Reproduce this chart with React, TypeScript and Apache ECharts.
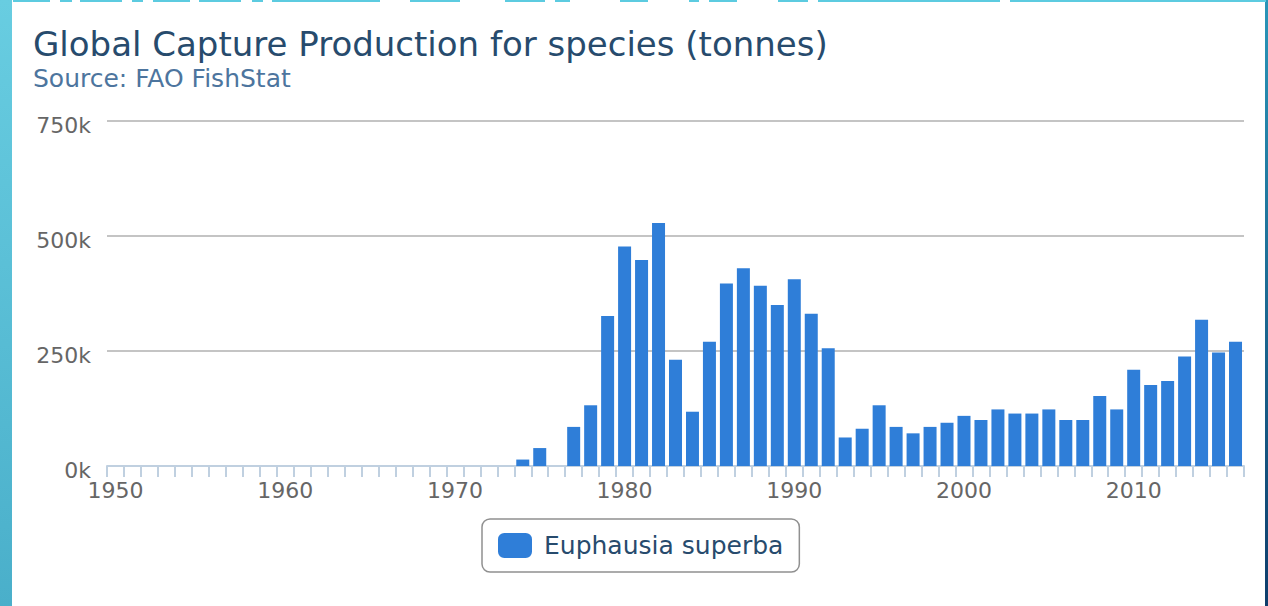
import React, { useEffect, useRef } from "react";
import * as echarts from "echarts";

const years: string[] = [];
for (let y = 1950; y <= 2016; y++) years.push(String(y));

const zeroYears = [
  0, 0, 0, 0, 0, 0, 0, 0, 0, 0, 0, 0, 0, 0, 0, 0, 0, 0, 0, 0, 0, 0, 0, 0,
];
const catch1974to2016 = [
  14000, 39000, 0, 85000, 132000, 326000, 477000, 448000, 528000, 231000,
  118000, 270000, 397000, 430000, 392000, 350000, 406000, 331000, 256000, 62000,
  81000, 132000, 85000, 71000, 85000, 94000, 109000, 100000, 123000, 114000,
  114000, 123000, 100000, 100000, 152000, 123000, 209000, 176000, 185000, 238000,
  318000, 247000, 270000,
];
const values = [...zeroYears, ...catch1974to2016];

const yTicks = [0, 250000, 500000, 750000];
const seriesName = "Euphausia superba";
const titleText = "Global Capture Production for species (tonnes)";
const subtitleText = "Source: FAO FishStat";

const topDashes: [number, number][] = [
  [13, 50], [60, 72], [80, 122], [132, 143], [153, 190], [199, 241], [252, 263],
  [272, 380], [410, 460], [505, 545], [555, 570], [620, 648], [689, 699],
  [709, 737], [778, 808], [818, 1000], [1010, 1266],
];

export default function App() {
  const ref = useRef<HTMLDivElement>(null);
  useEffect(() => {
    if (!ref.current) return;
    const chart = echarts.init(ref.current, null, { renderer: "svg" });
    const font = "DejaVu Sans";
    chart.setOption({
      animation: false,
      backgroundColor: "#ffffff",
      title: [
        {
          text: titleText,
          left: 33,
          top: 27,
          padding: 0,
          textStyle: { fontFamily: font, fontSize: 34, fontWeight: "normal", color: "#274b6d" },
        },
        {
          text: subtitleText,
          left: 33,
          top: 66,
          padding: 0,
          textStyle: { fontFamily: font, fontSize: 25, fontWeight: "normal", color: "#4d759e" },
        },
      ],
      grid: { left: 107, right: 24, top: 121, bottom: 140, containLabel: false },
      legend: {
        data: [seriesName],
        left: 482,
        top: 519,
        padding: [14, 16, 14, 16],
        borderColor: "#909090",
        borderWidth: 1.5,
        borderRadius: 8,
        itemWidth: 34,
        itemHeight: 25,
        icon: "roundRect",
        textStyle: { fontFamily: font, fontSize: 25, color: "#274b6d", padding: [0, 0, 0, 7] },
      },
      xAxis: {
        type: "category",
        data: years,
        boundaryGap: true,
        axisLine: { lineStyle: { color: "#C0D0E0", width: 2 } },
        axisTick: { show: true, interval: 0, length: 11, lineStyle: { color: "#C0D0E0", width: 2 } },
        axisLabel: {
          interval: 9,
          margin: 13,
          fontFamily: font,
          fontSize: 22,
          color: "#666666",
        },
        splitLine: { show: false },
      },
      yAxis: {
        type: "value",
        min: yTicks[0],
        max: yTicks[yTicks.length - 1],
        interval: 250000,
        axisLine: { show: false },
        axisTick: { show: false },
        axisLabel: {
          margin: 16,
          fontFamily: font,
          fontSize: 22,
          color: "#666666",
          verticalAlign: "top",
          lineHeight: 9,
          formatter: (v: number) => `${v / 1000}k`,
        },
        splitLine: { lineStyle: { color: "#C4C4C4", width: 2 } },
      },
      series: [
        {
          name: seriesName,
          type: "bar",
          data: values,
          barWidth: 13,
          itemStyle: { color: "#2f7ed8" },
        },
      ],
      graphic: [
        {
          type: "rect",
          shape: { x: 0, y: 0, width: 12, height: 606 },
          style: {
            fill: new echarts.graphic.LinearGradient(0, 0, 0, 1, [
              { offset: 0, color: "#68cde1" },
              { offset: 1, color: "#4aafca" },
            ]),
          },
          z: 100,
        },
        {
          type: "rect",
          shape: { x: 1265, y: 0, width: 3, height: 606 },
          style: {
            fill: new echarts.graphic.LinearGradient(0, 0, 0, 1, [
              { offset: 0, color: "#2a95b8" },
              { offset: 1, color: "#0e3d6b" },
            ]),
          },
          z: 100,
        },
        ...topDashes.map(([a, b]) => ({
          type: "rect",
          shape: { x: a, y: 0, width: b - a, height: 2 },
          style: { fill: "#5ccbe0" },
          z: 100,
        })),
      ],
    });
    return () => chart.dispose();
  }, []);
  return (
    <div
      ref={ref}
      style={{ position: "fixed", left: 0, top: 0, width: 1268, height: 606, background: "#fff" }}
    />
  );
}
